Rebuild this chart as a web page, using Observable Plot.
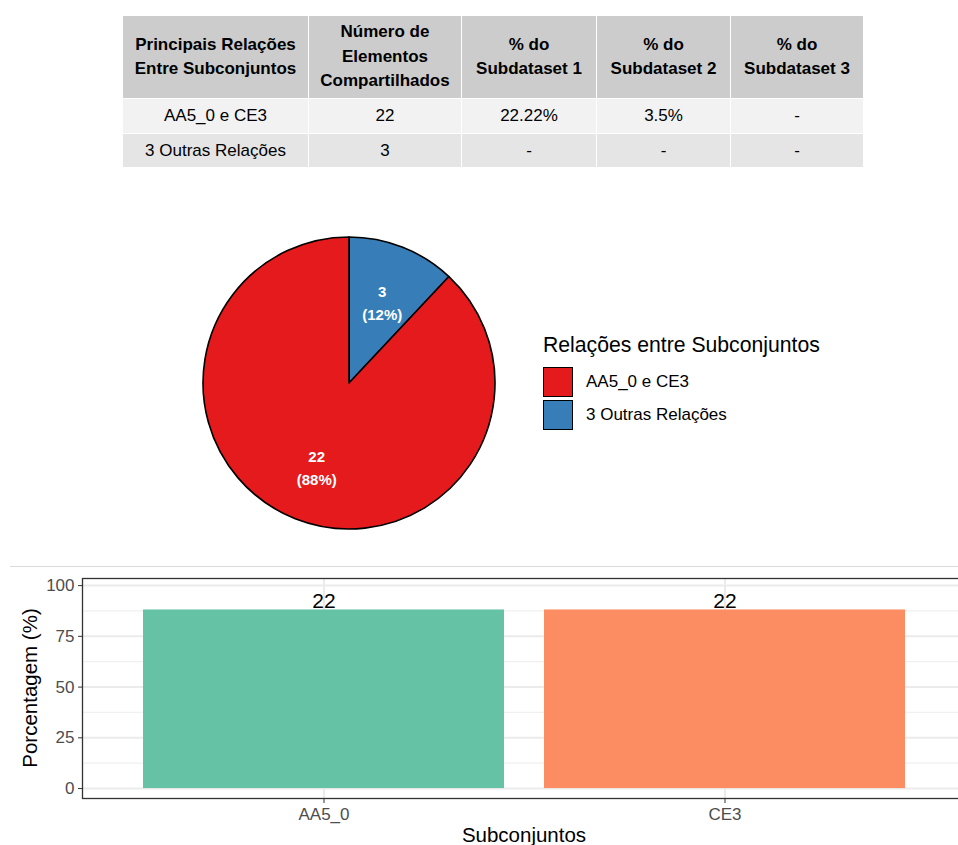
<!DOCTYPE html>
<html>
<head>
<meta charset="utf-8">
<script src="https://cdn.jsdelivr.net/npm/d3@7"></script>
<script src="https://cdn.jsdelivr.net/npm/@observablehq/plot@0.6"></script>
<style>
  html, body { margin: 0; padding: 0; background: #fff; overflow: hidden; }
  #page { position: relative; width: 958px; height: 845px; overflow: hidden;
          font-family: "Liberation Sans", Arial, Helvetica, sans-serif; color: #000; }
  .abs { position: absolute; }
  table.summary { position: absolute; left: 122px; top: 15px; border-collapse: collapse;
                  table-layout: fixed; width: 741px; font-size: 17px; }
  table.summary th, table.summary td { border: 1.5px solid #fff; text-align: center; padding: 0;
                  white-space: pre-line; }
  table.summary th { background: #CCCCCC; font-weight: bold; line-height: 24.5px; height: 82px; }
  table.summary tr.r0 td { background: #F2F2F2; height: 34px; }
  table.summary tr.r1 td { background: #E5E5E5; height: 33px; }
  .legend-title { font-size: 21.2px; left: 543px; top: 333px; white-space: nowrap; }
  .swatch { width: 28px; height: 28px; border: 1.5px solid #000; left: 543px; }
  .legend-label { font-size: 17px; left: 586px; white-space: nowrap; line-height: 20px; }
  .axis-title { font-size: 20.5px; white-space: nowrap; }
</style>
</head>
<body>
<div id="page"></div>
<script>
// Summary table
const tableHeaders = ["Principais Relações\nEntre Subconjuntos", "Número de\nElementos\nCompartilhados",
                      "% do\nSubdataset 1", "% do\nSubdataset 2", "% do\nSubdataset 3"];
const columnWidths = [186, 153, 135, 134, 133];
const relationNames = ["AA5_0 e CE3", "3 Outras Relações"];
const sharedCounts = [22, 3];
const pctSubdataset1 = ["22.22%", "-"];
const pctSubdataset2 = ["3.5%", "-"];
const pctSubdataset3 = ["-", "-"];

// Pie chart
const sliceColors = ["#E41A1C", "#377EB8"];
const legendTitle = "Relações entre Subconjuntos";

// Bar chart
const subsets = ["AA5_0", "CE3"];
const subsetCounts = [22, 22];
const barColors = ["#66C2A5", "#FC8D62"];
const yTicks = [0, 25, 50, 75, 100];
const yMinorTicks = [12.5, 37.5, 62.5, 87.5];
const xTitle = "Subconjuntos";
const yTitle = "Porcentagem (%)";

const FONT = '"Liberation Sans", Arial, Helvetica, sans-serif';
const page = document.getElementById("page");

// ---- table ----
const table = document.createElement("table");
table.className = "summary";
const colgroup = document.createElement("colgroup");
columnWidths.forEach(w => { const c = document.createElement("col"); c.style.width = w + "px"; colgroup.appendChild(c); });
table.appendChild(colgroup);
const head = document.createElement("tr");
tableHeaders.forEach(h => { const th = document.createElement("th"); th.textContent = h; head.appendChild(th); });
table.appendChild(head);
relationNames.forEach((name, i) => {
  const tr = document.createElement("tr");
  tr.className = "r" + i;
  [name, String(sharedCounts[i]), pctSubdataset1[i], pctSubdataset2[i], pctSubdataset3[i]].forEach(v => {
    const td = document.createElement("td"); td.textContent = v; tr.appendChild(td);
  });
  table.appendChild(tr);
});
page.appendChild(table);

// ---- pie ----
const total = d3.sum(sharedCounts);
const relations = relationNames.map((name, i) => ({name, count: sharedCounts[i], color: sliceColors[i]}));
// slices run clockwise from twelve o'clock, last relation first
const arcs = d3.pie().sort(null).value(d => d.count)(relations.slice().reverse());
const labelRadius = 0.61;

function pieSlices(index, scales, values, dimensions) {
  const {width, height, marginLeft, marginRight, marginTop, marginBottom} = dimensions;
  const cx = scales.x ? scales.x(0) : (marginLeft + width - marginRight) / 2;
  const cy = scales.y ? scales.y(0) : (marginTop + height - marginBottom) / 2;
  const r = scales.x ? scales.x(1) - scales.x(0) : (width - marginLeft - marginRight) / 2;
  const arc = d3.arc().innerRadius(0).outerRadius(r);
  const g = d3.create("svg:g").attr("transform", `translate(${cx},${cy})`);
  g.selectAll("path").data(arcs).join("path")
    .attr("d", arc)
    .attr("fill", d => d.data.color)
    .attr("stroke", "#000")
    .attr("stroke-width", 1.6)
    .attr("stroke-linejoin", "round");
  return g.node();
}

const midAngle = d => (d.startAngle + d.endAngle) / 2;
const piePlot = Plot.plot({
  width: 350, height: 350,
  marginLeft: 29, marginRight: 29, marginTop: 29, marginBottom: 29,
  style: {fontFamily: FONT, background: "transparent", overflow: "visible"},
  x: {domain: [-1, 1], axis: null},
  y: {domain: [-1, 1], axis: null},
  marks: [
    pieSlices,
    Plot.text(arcs, {
      x: d => labelRadius * Math.sin(midAngle(d)),
      y: d => labelRadius * Math.cos(midAngle(d)),
      text: d => `${d.data.count}\n(${Math.round(d.data.count / total * 100)}%)`,
      fill: "#fff", fontWeight: "bold", fontSize: 15, lineHeight: 1.55
    })
  ]
});
piePlot.classList.add("abs");
Object.assign(piePlot.style, {left: "174px", top: "208px", maxWidth: "none"});
page.appendChild(piePlot);

// legend
const lt = document.createElement("div");
lt.className = "abs legend-title"; lt.textContent = legendTitle;
page.appendChild(lt);
relations.forEach((d, i) => {
  const sw = document.createElement("div");
  sw.className = "abs swatch";
  sw.style.top = (367 + i * 33) + "px";
  sw.style.background = d.color;
  page.appendChild(sw);
  const lab = document.createElement("div");
  lab.className = "abs legend-label";
  lab.style.top = (372 + i * 33) + "px";
  lab.textContent = d.name;
  page.appendChild(lab);
});

// separator
const sep = document.createElement("div");
sep.className = "abs";
Object.assign(sep.style, {left: "10px", top: "566px", width: "948px", height: "1px", background: "#DADADA"});
page.appendChild(sep);

// ---- bars ----
const bars = subsets.map((s, i) => ({subset: s, count: subsetCounts[i], pct: subsetCounts[i] / total * 100}));
const barPlot = Plot.plot({
  width: 966, height: 275,
  marginLeft: 82, marginRight: 0, marginTop: 8, marginBottom: 47,
  style: {fontFamily: FONT, fontSize: "17px", background: "transparent", overflow: "visible"},
  x: {type: "band", domain: subsets, paddingInner: 0.1, paddingOuter: 0.15, label: null},
  y: {domain: [-4.9, 103.5], label: null},
  color: {domain: subsets, range: barColors},
  marks: [
    Plot.gridY(yMinorTicks, {stroke: "#F0F0F0", strokeOpacity: 1, strokeWidth: 1.2}),
    Plot.gridY(yTicks, {stroke: "#EBEBEB", strokeOpacity: 1, strokeWidth: 2}),
    Plot.gridX({stroke: "#EBEBEB", strokeOpacity: 1, strokeWidth: 2}),
    Plot.barY(bars, {x: "subset", y: "pct", fill: "subset"}),
    Plot.text(bars, {x: "subset", y: "pct", text: d => String(d.count), lineAnchor: "bottom",
                     dy: -2, fontSize: 21, fill: "#000"}),
    Plot.frame({stroke: "#333", strokeWidth: 1.3}),
    Plot.axisY(yTicks, {tickSize: 4, tickPadding: 4, stroke: "#333", fill: "#4D4D4D", label: null}),
    Plot.axisX({tickSize: 5, tickPadding: 4, stroke: "#333", fill: "#4D4D4D", label: null})
  ]
});
barPlot.classList.add("abs");
Object.assign(barPlot.style, {left: "0px", top: "570px", maxWidth: "none"});
page.appendChild(barPlot);

const yt = document.createElement("div");
yt.className = "abs axis-title"; yt.textContent = yTitle;
Object.assign(yt.style, {left: "30px", top: "688px", transform: "translate(-50%,-50%) rotate(-90deg)"});
page.appendChild(yt);
const xt = document.createElement("div");
xt.className = "abs axis-title"; xt.textContent = xTitle;
Object.assign(xt.style, {left: "524px", top: "835px", transform: "translate(-50%,-50%)"});
page.appendChild(xt);
</script>
</body>
</html>
